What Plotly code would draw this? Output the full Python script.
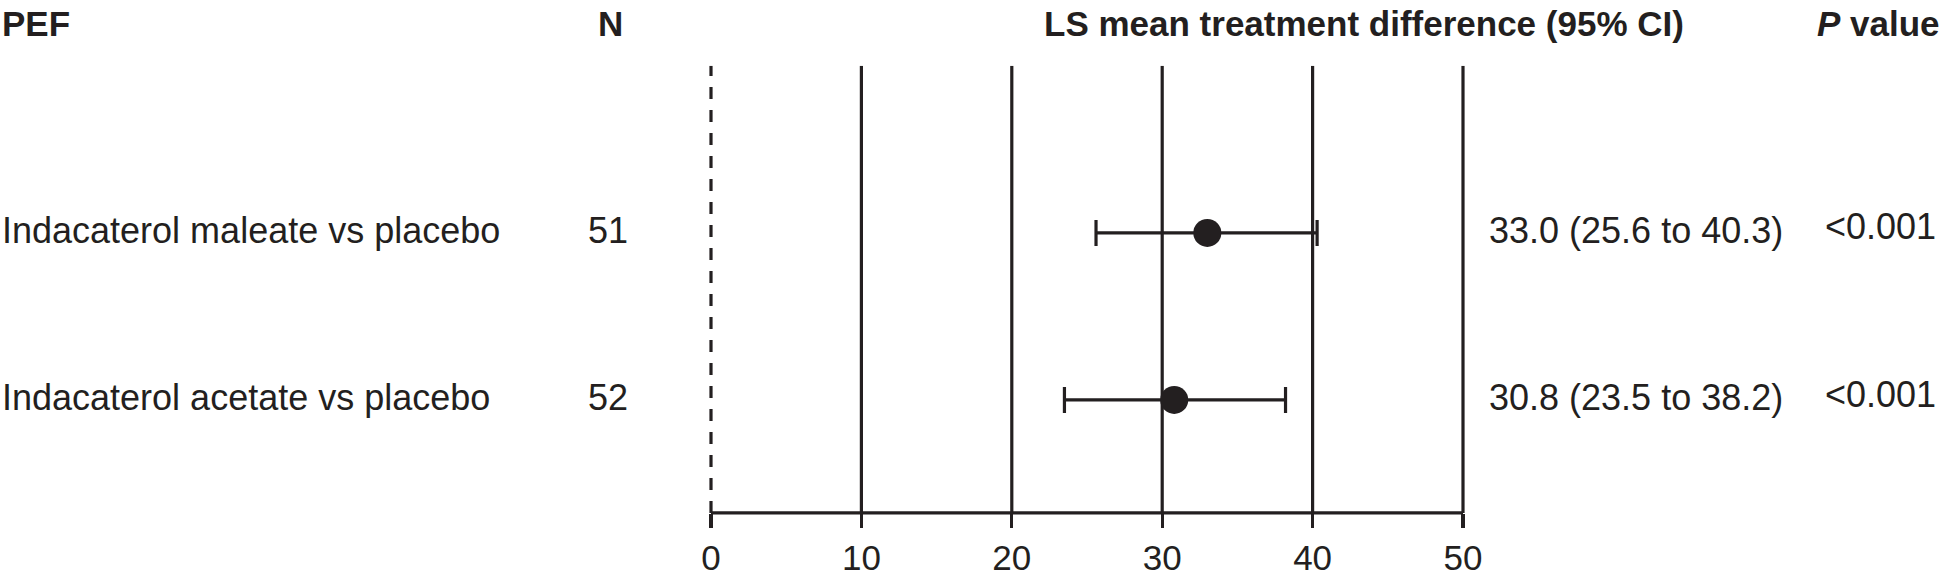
import plotly.graph_objects as go

# ---- data ----
comparisons = ["Indacaterol maleate vs placebo", "Indacaterol acetate vs placebo"]
n_values = [51, 52]
ls_mean = [33.0, 30.8]
ci_low = [25.6, 23.5]
ci_high = [40.3, 38.2]
p_values = ["<0.001", "<0.001"]
tick_values = [0, 10, 20, 30, 40, 50]
row_pos = [2, 1]

INK = "#231f20"
FONT = "Liberation Sans, Arial, Helvetica, sans-serif"
W, H = 1943, 577

# axis geometry (pixels)
x0_px, x50_px = 711, 1463
ppu = (x50_px - x0_px) / 50.0
xr = [-2, 52]
dom_x = [(x0_px + xr[0] * ppu) / W, (x0_px + xr[1] * ppu) / W]
top_px = 67
yr = [0, 3]
axis_px = 522
axis_y = yr[1] - (axis_px - top_px) / ((H - top_px) / (yr[1] - yr[0]))

fig = go.Figure()

fig.add_trace(go.Scatter(
    x=ls_mean, y=row_pos, mode="markers",
    marker=dict(size=28, color=INK, symbol="circle"),
    error_x=dict(type="data", symmetric=False,
                 array=[h - m for h, m in zip(ci_high, ls_mean)],
                 arrayminus=[m - l for m, l in zip(ls_mean, ci_low)],
                 color=INK, thickness=3.2, width=13),
    showlegend=False, hoverinfo="skip",
))

shapes = []
for t in tick_values:
    shapes.append(dict(type="line", xref="x", yref="y", x0=t, x1=t, y0=axis_y, y1=yr[1],
                       line=dict(color=INK, width=3.2, dash="12px,11px" if t == 0 else "solid"),
                       layer="below"))
shapes.append(dict(type="line", xref="x", yref="y", x0=tick_values[0], x1=tick_values[-1],
                   y0=axis_y, y1=axis_y, line=dict(color=INK, width=3.2)))

body = dict(family=FONT, size=36, color=INK)
head = dict(family=FONT, size=35, color=INK)
items = []
# headers
items.append(dict(text="<b>PEF</b>", x=0, y=24, xanchor="left", font=head))
items.append(dict(text="<b>N</b>", x=610, y=24, xanchor="center", font=head))
items.append(dict(text="<b>LS mean treatment difference (95% CI)</b>", x=1686, y=24, xanchor="right", font=head))
items.append(dict(text="<b><i>P</i> value</b>", x=1942, y=24, xanchor="right", font=head))

for i, r in enumerate(row_pos):
    ypx = 235 + (2 - r) * 170
    items.append(dict(text=comparisons[i], x=0, y=ypx, xanchor="left", font=body))
    items.append(dict(text=str(n_values[i]), x=608, y=ypx, xanchor="center", font=body))
    items.append(dict(text=f"{ls_mean[i]:.1f} ({ci_low[i]:.1f} to {ci_high[i]:.1f})",
                      x=1487, y=ypx, xanchor="left", font=body))
    items.append(dict(text=p_values[i], x=1823, y=ypx - 4, xanchor="left", font=body))

annotations = []
for a in items:
    annotations.append(dict(text=a["text"], xref="paper", yref="paper",
                            x=a["x"] / W, y=1 - a["y"] / H,
                            xanchor=a["xanchor"], yanchor="middle",
                            showarrow=False, font=a["font"]))

fig.update_layout(
    width=W, height=H,
    margin=dict(l=0, r=0, t=0, b=0),
    paper_bgcolor="white", plot_bgcolor="white",
    xaxis=dict(domain=dom_x, range=xr, tickvals=tick_values, ticktext=[str(t) for t in tick_values],
               showgrid=False, zeroline=False, showline=False,
               ticks="outside", ticklen=14, tickwidth=3.2, tickcolor=INK,
               tickfont=dict(family=FONT, size=35, color=INK),
               anchor="free", position=(H - axis_px) / H),
    yaxis=dict(domain=[0, (H - top_px) / H], range=yr, visible=False),
    shapes=shapes,
    annotations=annotations,
)

fig.write_html("out.html", config={"displayModeBar": False, "staticPlot": True},
               post_script="document.body.style.margin='0';document.body.style.overflow='hidden';")
